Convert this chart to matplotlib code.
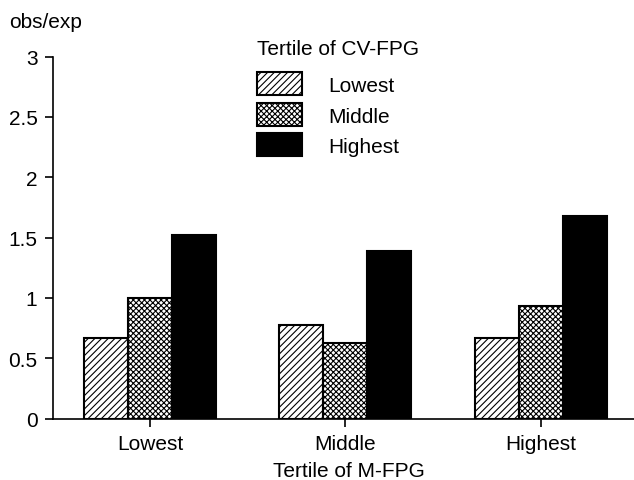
import matplotlib
matplotlib.use("Agg")
import matplotlib.pyplot as plt
from matplotlib.patches import Rectangle
import numpy as np

plt.rcParams['font.family'] = ['Liberation Sans', 'DejaVu Sans']
plt.rcParams['hatch.linewidth'] = 0.8

groups = ["Lowest", "Middle", "Highest"]
series_names = ["Lowest", "Middle", "Highest"]
val_lowest = [0.665, 0.775, 0.665]
val_middle = [0.997, 0.626, 0.935]
val_highest = [1.52, 1.39, 1.677]
yticks = [0, 0.5, 1, 1.5, 2, 2.5, 3]
ytick_labels = ["0", "0.5", "1", "1.5", "2", "2.5", "3"]
legend_title = "Tertile of CV-FPG"

FS = 15
W, H = 634, 481

fig = plt.figure(figsize=(W/100, H/100), dpi=100)
ax_l, ax_b = 52.7/W, 1-419.5/H
ax = fig.add_axes([ax_l, ax_b, 1-ax_l, 362/H])

x = np.arange(len(groups))
w = 0.225
styles = [dict(facecolor='white', hatch='/////'),
          dict(facecolor='white', hatch='xxxxxx'),
          dict(facecolor='black', hatch=None)]
for i, (vals, st) in enumerate(zip([val_lowest, val_middle, val_highest], styles)):
    ax.bar(x + (i-1)*w, vals, w, edgecolor='black', linewidth=1.5,
           label=series_names[i], **st)

ax.set_xlim(-0.4977, 2.476)
ax.set_ylim(0, 3)
ax.spines['top'].set_visible(False)
ax.spines['right'].set_visible(False)
ax.spines['left'].set_bounds(0, 3)
for s in ['left', 'bottom']:
    ax.spines[s].set_linewidth(1.2)
ax.set_xticks(x)
ax.set_xticklabels(groups, fontsize=FS)
ax.set_yticks(yticks)
ax.set_yticklabels(ytick_labels, fontsize=FS)
ax.tick_params(axis='y', direction='out', length=6, width=1.2, pad=5)
ax.tick_params(axis='x', direction='out', length=6, width=1.2, pad=5)
ax.set_xlabel("Tertile of M-FPG", fontsize=FS, va='baseline')
ax.xaxis.set_label_coords(0.51, (419.5-477)/362)
fig.text(9/W, 1-27.5/H, "obs/exp", fontsize=FS, va='baseline', ha='left')

# legend drawn manually (layout only, no data)
fig.text(257.3/W, 1-55/H, legend_title, fontsize=FS, va='baseline', ha='left')
row_tops = [73.3, 104, 134]
for top, name, st in zip(row_tops, series_names, styles):
    r = Rectangle((257.3/W, 1-(top+22.7)/H), 45/W, 22.7/H,
                  transform=fig.transFigure, edgecolor='black', linewidth=1.5,
                  **st)
    fig.add_artist(r)
    fig.text(328/W, 1-(top+11.35)/H, name, fontsize=FS, va='center_baseline', ha='left')

fig.savefig("out.png", dpi=100)
